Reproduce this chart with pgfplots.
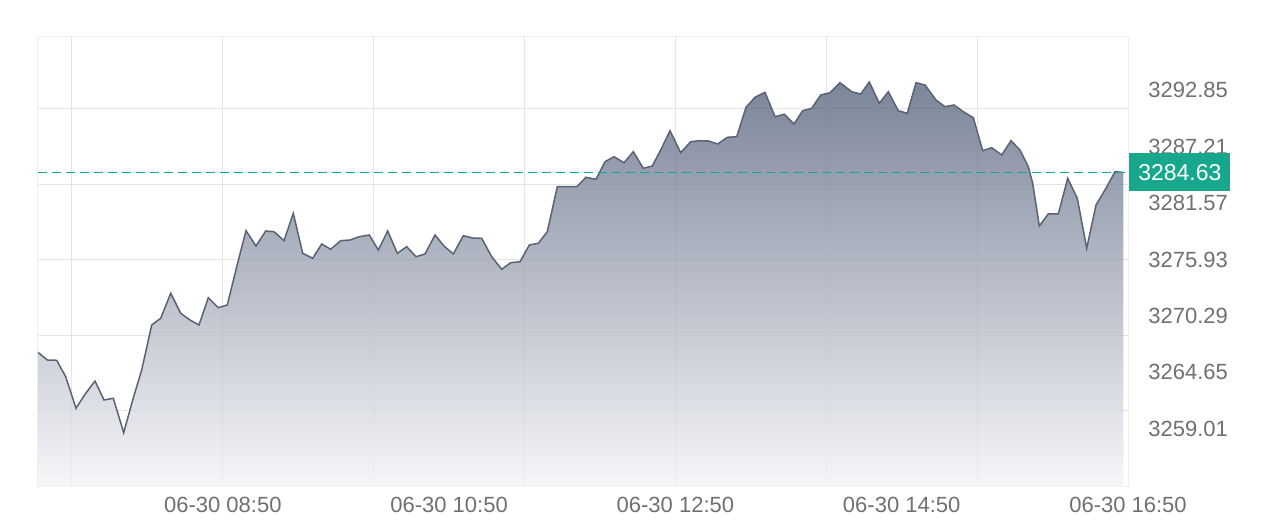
\documentclass[border=0pt]{standalone}
\usepackage{fontspec}
\setmainfont{Liberation Sans}
\usepackage{pgfplots}
\usepackage{pgfplotstable}
\pgfplotsset{compat=1.18}

\definecolor{lineC}{HTML}{5A6274}
\definecolor{fillTop}{HTML}{4F5C77}
\definecolor{fillBot}{HTML}{F3F4F7}
\definecolor{gridC}{HTML}{E4E4E4}
\definecolor{boxC}{HTML}{EFEFEF}
\definecolor{labelC}{HTML}{707070}
\definecolor{tealC}{HTML}{16A88C}

% minutes from 06-30 08:50, price
\pgfplotstableread{
t p
-98.00 3266.65
-93.07 3265.88
-88.08 3265.85
-83.31 3264.21
-77.85 3261.05
-73.08 3262.45
-67.77 3263.78
-63.00 3261.88
-58.07 3262.05
-52.55 3258.61
-47.78 3261.88
-43.01 3264.88
-37.71 3269.38
-32.93 3270.05
-27.63 3272.55
-22.33 3270.55
-17.40 3269.88
-12.62 3269.38
-7.69 3272.11
-2.39 3271.11
2.38 3271.38
7.37 3275.21
12.30 3278.81
17.60 3277.28
22.74 3278.78
27.15 3278.71
32.45 3277.81
37.38 3280.55
42.37 3276.55
47.67 3276.05
52.44 3277.48
57.21 3276.95
62.52 3277.81
67.45 3277.88
72.38 3278.21
77.68 3278.38
82.45 3276.88
87.44 3278.78
92.53 3276.55
97.51 3277.21
102.45 3276.21
107.22 3276.48
112.52 3278.38
117.29 3277.28
122.22 3276.48
127.53 3278.31
132.51 3278.08
137.29 3278.05
142.59 3276.21
147.89 3274.95
152.66 3275.61
157.60 3275.71
162.53 3277.38
167.30 3277.55
172.07 3278.71
177.37 3283.21
182.36 3283.21
187.66 3283.21
192.59 3284.15
197.90 3283.95
202.67 3285.71
207.44 3286.21
212.74 3285.61
217.68 3286.71
222.98 3285.05
227.75 3285.28
232.20 3286.88
237.14 3288.81
242.81 3286.61
248.11 3287.71
252.67 3287.81
257.45 3287.78
262.43 3287.48
267.52 3288.15
272.51 3288.21
277.44 3291.15
282.21 3292.15
287.51 3292.65
292.82 3290.21
297.75 3290.45
302.89 3289.48
307.50 3290.81
312.28 3291.05
317.05 3292.38
321.98 3292.61
327.28 3293.61
333.49 3292.71
338.26 3292.48
342.82 3293.68
348.12 3291.55
352.90 3292.71
358.20 3290.81
362.97 3290.55
367.59 3293.61
372.36 3293.38
378.19 3291.88
382.96 3291.21
387.74 3291.38
392.67 3290.71
397.97 3290.11
402.95 3286.81
407.73 3287.11
413.03 3286.38
417.96 3287.81
422.74 3286.88
427.14 3285.21
429.47 3283.55
432.97 3279.28
437.74 3280.48
443.05 3280.48
448.03 3284.05
453.12 3282.05
458.11 3277.05
463.04 3281.38
467.81 3282.88
473.11 3284.71
477.51 3284.63
}\pricedata

\begin{document}
\begin{tikzpicture}
\useasboundingbox (0,0) rectangle (640pt,264.5pt);
\begin{axis}[
  at={(19pt,21pt)}, anchor=south west,
  scale only axis, width=545pt, height=225pt,
  xmin=-98, xmax=480, ymin=3253.18, ymax=3298.18,
  xtick={-80,0,80,160,240,320,400,480},
  ytick={3260.78,3268.33,3275.88,3283.43,3290.98},
  xticklabels={}, yticklabels={},
  grid=major, major grid style={gridC, line width=0.5pt},
  major tick length=0pt,
  axis line style={boxC, line width=0.5pt},
  extra x ticks={0,120,240,360,480},
  extra x tick labels={06-30 08:50,06-30 10:50,06-30 12:50,06-30 14:50,06-30 16:50},
  extra y ticks={3259.01,3264.65,3270.29,3275.93,3281.57,3287.21,3292.85},
  extra y tick labels={3259.01,3264.65,3270.29,3275.93,3281.57,3287.21,3292.85},
  extra x tick style={grid=none},
  extra y tick style={grid=none},
  yticklabel pos=right,
  xticklabel style={anchor=north, inner sep=0pt, yshift=-5pt},
  yticklabel style={anchor=west, inner sep=0pt, xshift=10pt},
  ticklabel style={font=\fontsize{11}{13}\selectfont, text=labelC},
  clip mode=individual,
]
\addplot[draw=none, top color=fillTop, bottom color=fillBot, fill opacity=0.75, forget plot]
  table {\pricedata} -- (axis cs:477.51,3253.18) -- (axis cs:-98,3253.18) -- cycle;
\addplot[lineC, line width=0.75pt, mark=none] table {\pricedata};
\addplot[tealC, line width=0.9pt, dash pattern=on 4.5pt off 2.5pt]
  coordinates {(-98,3284.63) (480,3284.63)};
\node[fill=tealC, text=white, anchor=west, minimum width=50.5pt,
  minimum height=19pt, inner sep=0pt, font=\fontsize{11.5}{13}\selectfont]
  at (axis cs:480.5,3284.63) {3284.63};
\end{axis}
\end{tikzpicture}
\end{document}
